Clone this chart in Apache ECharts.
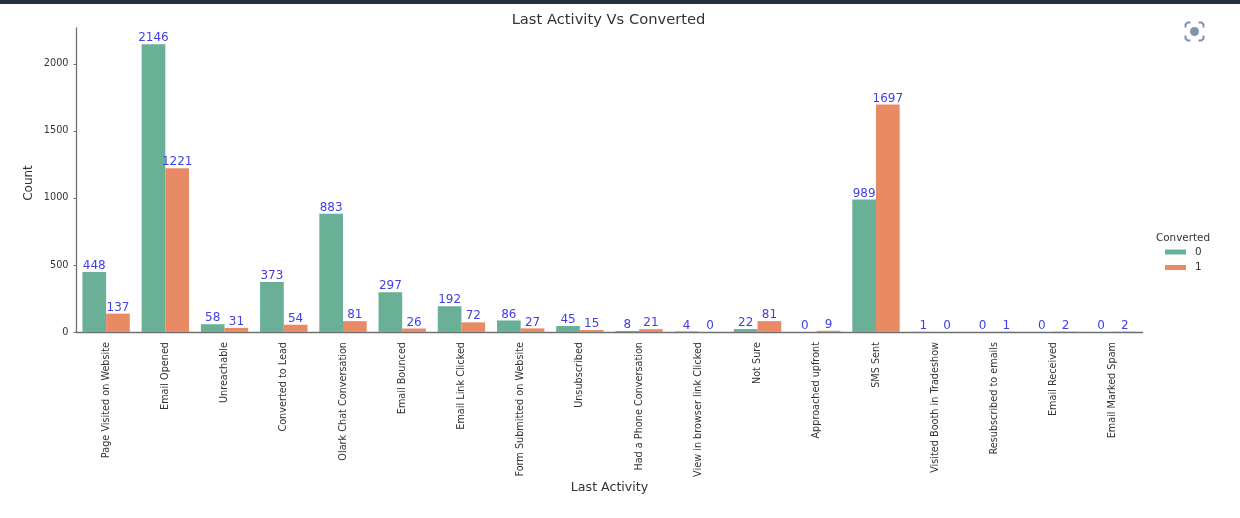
<!DOCTYPE html>
<html>
<head>
<meta charset="utf-8">
<style>html,body{margin:0;padding:0;background:#fff}#c{width:1240px;height:518px}</style>
<script src="https://cdn.jsdelivr.net/npm/echarts@6/dist/echarts.min.js"></script>
</head>
<body>
<div id="c"></div>
<script>
const categories = ["Page Visited on Website","Email Opened","Unreachable","Converted to Lead","Olark Chat Conversation","Email Bounced","Email Link Clicked","Form Submitted on Website","Unsubscribed","Had a Phone Conversation","View in browser link Clicked","Not Sure","Approached upfront","SMS Sent","Visited Booth in Tradeshow","Resubscribed to emails","Email Received","Email Marked Spam"];
const converted0 = [448,2146,58,373,883,297,192,86,45,8,4,22,0,989,1,0,0,0];
const converted1 = [137,1221,31,54,81,26,72,27,15,21,0,81,9,1697,0,1,2,2];
const yTicks = [0,500,1000,1500,2000];
const font = "'DejaVu Sans'";
const textColor = '#333';
const axisColor = '#707070';
const iconColor = '#7f95ad';
const mkSeries = (name, data, color) => ({
  name, type: 'bar', data, barWidth: '40%', barGap: 0,
  itemStyle: {color},
  label: {show: true, position: 'top', distance: 0, color: '#3f3fe4', fontSize: 12, fontFamily: font},
  labelLayout: {hideOverlap: false},
  animation: false
});
const chart = echarts.init(document.getElementById('c'), null, {renderer: 'canvas'});
chart.setOption({
  animation: false,
  backgroundColor: '#fff',
  title: [
    {text: 'Last Activity Vs Converted', left: 603.5, top: 8, textAlign: 'center',
     textStyle: {fontFamily: font, fontSize: 14.7, fontWeight: 'normal', color: '#333'}},
    {text: 'Converted', left: 1178, top: 228, textAlign: 'center',
     textStyle: {fontFamily: font, fontSize: 10.4, fontWeight: 'normal', color: textColor}}
  ],
  legend: {
    orient: 'vertical', left: 1160, top: 242, itemWidth: 21, itemHeight: 5, itemGap: 5.5,
    data: ['0','1'], icon: 'rect',
    textStyle: {fontFamily: font, fontSize: 10.4, color: textColor, padding: [0,0,0,4]},
    selectedMode: false
  },
  grid: {left: 76.5, right: 97.5, top: 28, bottom: 186, containLabel: false},
  xAxis: {
    type: 'category', data: categories,
    name: 'Last Activity', nameLocation: 'middle', nameGap: 149, nameMoveOverlap: false,
    nameTextStyle: {fontFamily: font, fontSize: 12.6, color: textColor},
    axisLine: {lineStyle: {color: axisColor, width: 1.3}},
    axisTick: {alignWithLabel: true, length: 3, lineStyle: {color: axisColor}},
    axisLabel: {rotate: 90, interval: 0, margin: 10, fontFamily: font, fontSize: 9.7, color: textColor}
  },
  yAxis: {
    type: 'value', min: 0, max: 2268, interval: 500,
    name: 'Count', nameLocation: 'middle', nameGap: 42, nameMoveOverlap: false,
    nameTextStyle: {fontFamily: font, fontSize: 12, color: textColor, padding: [0,6,0,0]},
    splitLine: {show: false},
    axisLine: {show: true, lineStyle: {color: axisColor, width: 1.3}},
    axisTick: {show: true, length: 3, lineStyle: {color: axisColor}, customValues: yTicks},
    axisLabel: {margin: 8, fontFamily: font, fontSize: 9.7, color: textColor, customValues: yTicks, formatter: v => String(v)}
  },
  series: [mkSeries('0', converted0, '#69b096'), mkSeries('1', converted1, '#e88b64')],
  graphic: [
    {type: 'rect', shape: {x: 0, y: 0, width: 1240, height: 4}, style: {fill: '#22313a'}, silent: true},
    {type: 'group', left: 1183, top: 20, silent: true, children: [
      {type: 'circle', shape: {cx: 10, cy: 10, r: 4.5}, style: {fill: iconColor}},
      {type: 'polyline', shape: {points: [[1,6],[1,3],[3,1],[6,1]]}, style: {stroke: iconColor, lineWidth: 2, fill: 'none'}},
      {type: 'polyline', shape: {points: [[14,1],[17,1],[19,3],[19,6]]}, style: {stroke: iconColor, lineWidth: 2, fill: 'none'}},
      {type: 'polyline', shape: {points: [[19,14],[19,17],[17,19],[14,19]]}, style: {stroke: iconColor, lineWidth: 2, fill: 'none'}},
      {type: 'polyline', shape: {points: [[6,19],[3,19],[1,17],[1,14]]}, style: {stroke: iconColor, lineWidth: 2, fill: 'none'}}
    ]}
  ]
});
</script>
</body>
</html>
